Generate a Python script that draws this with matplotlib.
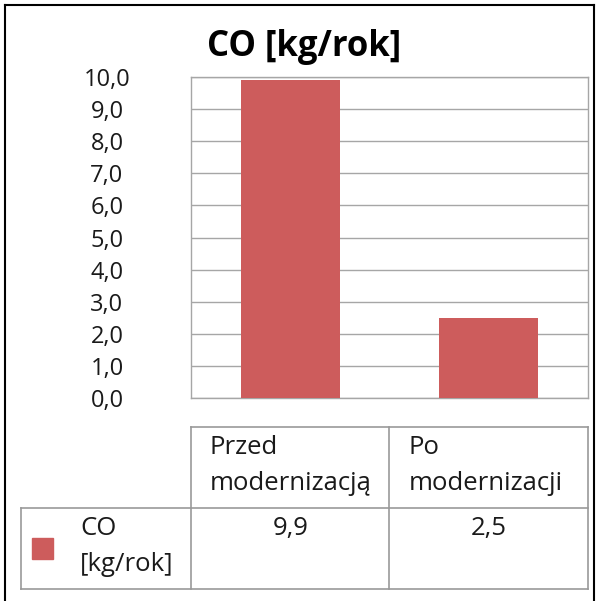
import matplotlib
matplotlib.use("Agg")
import matplotlib.pyplot as plt
from matplotlib.lines import Line2D
from matplotlib.patches import Rectangle

categories = ["Przed\nmodernizacją", "Po\nmodernizacji"]
values = [9.9, 2.5]
value_labels = ["9,9", "2,5"]
series_name = "CO\n[kg/rok]"
title = "CO [kg/rok]"
yticks = [0, 1, 2, 3, 4, 5, 6, 7, 8, 9, 10]
ytick_labels = ["0,0", "1,0", "2,0", "3,0", "4,0", "5,0", "6,0", "7,0", "8,0", "9,0", "10,0"]

bar_color = "#CD5C5C"
grid_color = "#A6A6A6"
plt.rcParams['font.family'] = ['Open Sans', 'DejaVu Sans']
FS = 17
FS_TAB = 18.5
LS = 1.6

W, H = 600, 601
fig = plt.figure(figsize=(W / 100, H / 100), dpi=100)

def fx(px):
    return px / W

def fy(py):
    return 1 - py / H

# main axes
ax = fig.add_axes([fx(191), fy(398), fx(588) - fx(191), fy(77) - fy(398)])
x = list(range(len(categories)))
ax.bar(x, values, width=0.5, color=bar_color, zorder=3)
ax.set_xlim(-0.5, len(categories) - 0.5)
ax.set_ylim(0, 10)
ax.set_yticks(yticks)
ax.set_yticklabels(ytick_labels, fontsize=FS, color="#1a1a1a")
for lab in ax.get_yticklabels():
    lab.set_horizontalalignment("center")
ax.tick_params(axis="y", length=0, pad=60.5)
ax.set_xticks([])
ax.grid(axis="y", color=grid_color, linewidth=1.0, zorder=0)
for s in ax.spines.values():
    s.set_color(grid_color)
    s.set_linewidth(1.0)

fig.text(fx(304), fy(47), title, fontsize=25, fontweight="bold", ha="center", va="center", color="black")

# data table axes (shares x scale with main axes)
unit_px = (588 - 191) / len(categories)
left_x = -0.5 - (191 - 21) / unit_px
row_px = (589 - 427) / 2
tab = fig.add_axes([fx(21), fy(589), fx(588) - fx(21), fy(427) - fy(589)])
tab.set_xlim(left_x, len(categories) - 0.5)
tab.set_ylim(0, 2)
tab.axis("off")
lc = "#999999"
lw = 1.2
tab.plot([-0.5, len(categories) - 0.5], [2, 2], color=lc, lw=lw, clip_on=False)
tab.plot([left_x, len(categories) - 0.5], [1, 1], color=lc, lw=lw, clip_on=False)
tab.plot([left_x, len(categories) - 0.5], [0, 0], color=lc, lw=lw, clip_on=False)
for i in range(len(categories) + 1):
    tab.plot([i - 0.5, i - 0.5], [0, 2], color=lc, lw=lw, clip_on=False)
tab.plot([left_x, left_x], [0, 1], color=lc, lw=lw, clip_on=False)

pad = 19 / unit_px
top_off = 8 / row_px
for i, c in enumerate(categories):
    tab.text(i - 0.5 + pad, 2 - top_off, c, fontsize=FS_TAB, ha="left", va="top", color="#1a1a1a", linespacing=LS)
    tab.text(i, 1 - top_off, value_labels[i], fontsize=FS_TAB, ha="center", va="top", color="#1a1a1a")
tab.text(left_x + 59 / unit_px, 1 - top_off, series_name, fontsize=FS_TAB, ha="left", va="top", color="#1a1a1a", linespacing=LS)
sq = 21
tab.add_patch(Rectangle((left_x + 11 / unit_px, 0.5 - (sq / 2) / row_px), sq / unit_px, sq / row_px,
                        color=bar_color, clip_on=False))

# outer border
bc = "black"
fig.add_artist(Line2D([fx(5), fx(594)], [fy(5), fy(5)], color=bc, lw=1.5))
fig.add_artist(Line2D([fx(5), fx(5)], [fy(5), 0], color=bc, lw=1.5))
fig.add_artist(Line2D([fx(594), fx(594)], [fy(5), 0], color=bc, lw=1.5))

fig.savefig("out.png", dpi=100)
